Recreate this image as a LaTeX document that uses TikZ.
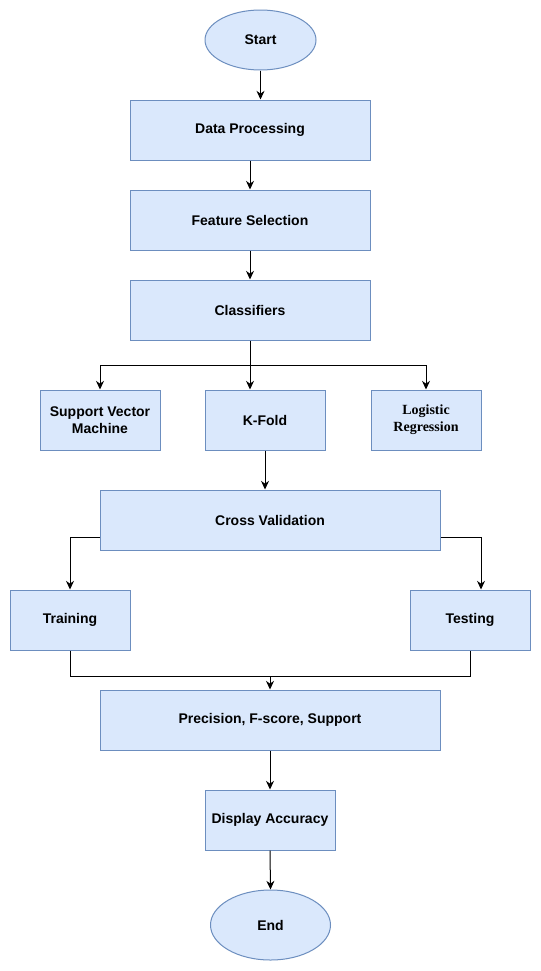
\documentclass[tikz,border=0pt]{standalone}
\usepackage{fontspec}
\setmainfont{Liberation Sans}
\newfontfamily\tnr{Liberation Serif}
\usetikzlibrary{shapes.geometric,arrows.meta,calc}
\definecolor{boxfill}{HTML}{DAE8FC}
\definecolor{boxline}{HTML}{6C8EBF}
\begin{document}
\begin{tikzpicture}[x=0.75pt,y=-0.75pt,
  box/.style={draw=boxline,fill=boxfill,line width=0.75pt,inner sep=0pt,align=center,
    font=\fontsize{10.5}{13}\selectfont\bfseries,minimum height=45pt},
  oval/.style={box,ellipse},
  arr/.style={line width=0.75pt,-{Stealth[length=6.5pt,width=6pt]}},
  ln/.style={line width=0.75pt}]
\useasboundingbox (0,0) rectangle (541,971);
\fill[white] (0,0) rectangle (541,971);
\node[oval,minimum width=83.25pt] (start) at (260.5,40) {Start};
\node[box,minimum width=180pt] (dp) at (250,130) {Data Processing};
\node[box,minimum width=180pt] (fs) at (250,220) {Feature Selection};
\node[box,minimum width=180pt] (cl) at (250,310) {Classifiers};
\node[box,minimum width=90pt] (svm) at (100,420) {Support Vector\\Machine};
\node[box,minimum width=90pt] (kf) at (265,420) {K-Fold};
\node[box,minimum width=82.5pt,font=\fontsize{10.5}{13}\selectfont\tnr\bfseries] (lr) at (426,420) {Logistic\\Regression};
\node[box,minimum width=255pt] (cv) at (270,520) {Cross Validation};
\node[box,minimum width=90pt] (tr) at (70,620) {Training};
\node[box,minimum width=90pt] (te) at (470,620) {Testing};
\node[box,minimum width=255pt] (ps) at (270,720) {Precision, F-score, Support};
\node[box,minimum width=97.5pt] (da) at (270,820) {Display Accuracy};
\node[oval,minimum width=90pt,minimum height=52.5pt] (end) at (270.5,925) {End};
% connectors
\draw[arr] (start.south) -- (start.south |- dp.north);
\draw[arr] (dp.south) -- (fs.north);
\draw[arr] (fs.south) -- (cl.north);
\coordinate (bus) at ($(cl.south)+(0,25)$);
\draw[arr] (cl.south) -- (cl.south |- kf.north);
\draw[arr] (bus) -| (svm.north);
\draw[arr] (bus) -| (lr.north);
\draw[arr] (kf.south) -- (kf.south |- cv.north);
\coordinate (cvl) at ($(cv.south west)+(0,-13)$);
\coordinate (cvr) at ($(cv.south east)+(0,-13)$);
\coordinate (tein) at ($(te.north)+(11,0)$);
\draw[arr] (cvl) -| (tr.north);
\draw[arr] (cvr) -| (tein);
\coordinate (jn) at ($(ps.north)+(0,-13)$);
\draw[ln] (tr.south) |- (jn) -| (te.south);
\draw[arr] (jn) -- (ps.north);
\draw[arr] (ps.south) -- (da.north);
\draw[arr] (da.south) -- (end.north);
\end{tikzpicture}
\end{document}
